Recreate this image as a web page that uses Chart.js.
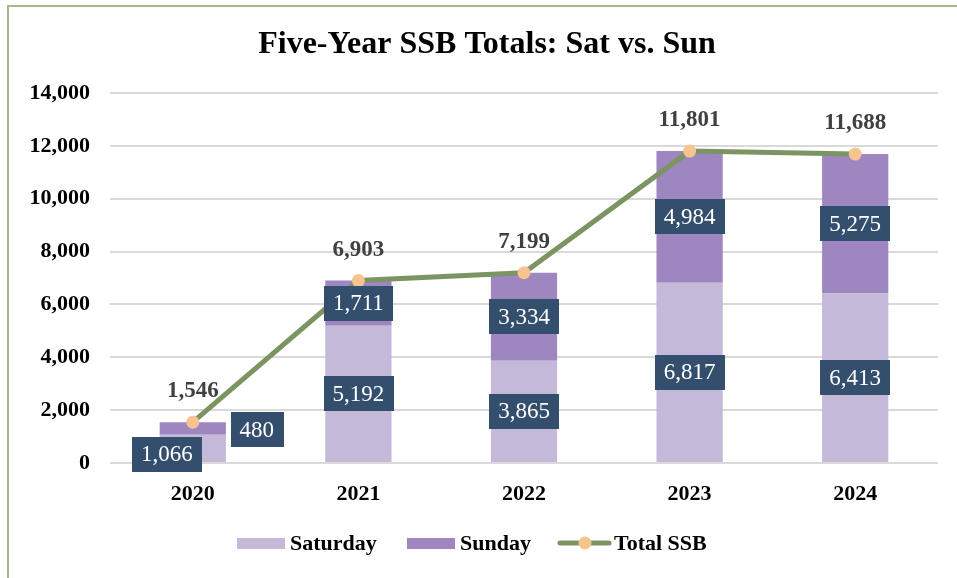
<!DOCTYPE html>
<html>
<head>
<meta charset="utf-8">
<script src="https://cdn.jsdelivr.net/npm/chart.js@4/dist/chart.umd.min.js"></script>
<style>
html,body{margin:0;padding:0;background:#fff;}
#wrap{position:relative;width:957px;height:578px;}
</style>
</head>
<body>
<div id="wrap"><canvas id="c" width="957" height="578"></canvas></div>
<script>
const categories = ['2020', '2021', '2022', '2023', '2024'];
const saturday = [1066, 5192, 3865, 6817, 6413];
const sunday = [480, 1711, 3334, 4984, 5275];
const totalSSB = [1546, 6903, 7199, 11801, 11688];
const yTicks = [0, 2000, 4000, 6000, 8000, 10000, 12000, 14000];
const seriesNames = ['Saturday', 'Sunday', 'Total SSB'];
const titleText = 'Five-Year SSB Totals: Sat vs. Sun';

const SERIF = '"Liberation Serif", "Times New Roman", serif';
const COL_SAT = '#c5b9da';
const COL_SUN = '#9e86c0';
const COL_LINE = '#7b9462';
const COL_PT = '#f6c48e';
const COL_BOX = '#344e6d';

const fmt = v => v.toLocaleString('en-US');

// per-label pixel nudges (labels were moved by hand for the first category)
const labelNudge = {
  0: { 0: [-26, 6], 1: [64, 1] }
};

const customPlugin = {
  id: 'custom',
  beforeDraw(chart) {
    const ctx = chart.ctx;
    ctx.save();
    ctx.fillStyle = '#fff';
    ctx.fillRect(0, 0, chart.width, chart.height);
    ctx.strokeStyle = '#a3b88f';
    ctx.lineWidth = 2;
    ctx.beginPath();
    ctx.moveTo(8, 578);
    ctx.lineTo(8, 6);
    ctx.lineTo(957, 6);
    ctx.stroke();
    ctx.fillStyle = '#000';
    ctx.font = 'bold 32px ' + SERIF;
    ctx.textAlign = 'center';
    ctx.textBaseline = 'middle';
    ctx.fillText(titleText, 487, 45);
    ctx.restore();
  },
  afterDatasetsDraw(chart) {
    const ctx = chart.ctx;
    ctx.save();
    ctx.textAlign = 'center';
    ctx.textBaseline = 'middle';
    [0, 1].forEach(di => {
      const meta = chart.getDatasetMeta(di);
      const data = chart.data.datasets[di].data;
      meta.data.forEach((bar, i) => {
        const txt = fmt(data[i]);
        let cx = bar.x;
        let cy = (bar.y + bar.base) / 2;
        const n = labelNudge[i] && labelNudge[i][di];
        if (n) { cx += n[0]; cy += n[1]; }
        ctx.font = '23px ' + SERIF;
        const w = ctx.measureText(txt).width + 18;
        const h = 35;
        ctx.fillStyle = COL_BOX;
        ctx.fillRect(Math.round(cx - w / 2), Math.round(cy - h / 2), Math.round(w), h);
        ctx.fillStyle = '#fff';
        ctx.fillText(txt, cx, cy + 1);
      });
    });
    const lm = chart.getDatasetMeta(2);
    const ld = chart.data.datasets[2].data;
    ctx.font = 'bold 23px ' + SERIF;
    ctx.fillStyle = '#404040';
    lm.data.forEach((pt, i) => {
      ctx.fillText(fmt(ld[i]), pt.x, pt.y - 31);
    });
    ctx.restore();
  },
  afterDraw(chart) {
    const ctx = chart.ctx;
    ctx.save();
    ctx.font = 'bold 22px ' + SERIF;
    ctx.textBaseline = 'middle';
    ctx.textAlign = 'left';
    const y = 543;
    ctx.fillStyle = COL_SAT;
    ctx.fillRect(237, y - 5, 48, 11);
    ctx.fillStyle = '#000';
    ctx.fillText(seriesNames[0], 290, y + 1);
    ctx.fillStyle = COL_SUN;
    ctx.fillRect(407, y - 5, 48, 11);
    ctx.fillStyle = '#000';
    ctx.fillText(seriesNames[1], 460, y + 1);
    ctx.strokeStyle = COL_LINE;
    ctx.lineWidth = 5;
    ctx.lineCap = 'round';
    ctx.beginPath();
    ctx.moveTo(560, y);
    ctx.lineTo(609, y);
    ctx.stroke();
    ctx.fillStyle = COL_PT;
    ctx.beginPath();
    ctx.arc(585, y, 6.5, 0, Math.PI * 2);
    ctx.fill();
    ctx.fillStyle = '#000';
    ctx.fillText(seriesNames[2], 614, y + 1);
    ctx.restore();
  }
};

new Chart(document.getElementById('c'), {
  data: {
    labels: categories,
    datasets: [
      {
        type: 'bar',
        label: seriesNames[0],
        data: saturday,
        backgroundColor: COL_SAT,
        stack: 's',
        order: 1,
        barPercentage: 0.8,
        categoryPercentage: 0.5
      },
      {
        type: 'bar',
        label: seriesNames[1],
        data: sunday,
        backgroundColor: COL_SUN,
        stack: 's',
        order: 2,
        barPercentage: 0.8,
        categoryPercentage: 0.5
      },
      {
        type: 'line',
        label: seriesNames[2],
        data: totalSSB,
        borderColor: COL_LINE,
        borderWidth: 5,
        pointBackgroundColor: COL_PT,
        pointBorderColor: COL_PT,
        pointRadius: 6.5,
        pointBorderWidth: 0,
        tension: 0,
        order: 0,
        stack: 'line'
      }
    ]
  },
  options: {
    responsive: false,
    animation: false,
    devicePixelRatio: 1,
    layout: { padding: { top: 93, right: 19, left: 0, bottom: 0 } },
    plugins: {
      legend: { display: false },
      title: { display: false },
      tooltip: { enabled: false }
    },
    scales: {
      x: {
        stacked: true,
        grid: { display: false, drawTicks: false },
        border: { display: false },
        ticks: {
          color: '#000',
          font: { family: SERIF, size: 22, weight: 'bold' },
          padding: 18
        },
        afterFit(s) { s.height = 115; }
      },
      y: {
        stacked: true,
        min: 0,
        max: 14000,
        afterBuildTicks(s) { s.ticks = yTicks.map(v => ({ value: v })); },
        grid: { color: '#d9d9d9', lineWidth: 2, drawTicks: false },
        border: { display: false },
        ticks: {
          color: '#000',
          font: { family: SERIF, size: 22, weight: 'bold' },
          padding: 20,
          callback: v => fmt(v)
        },
        afterFit(s) { s.width = 110; }
      }
    }
  },
  plugins: [customPlugin]
});
</script>
</body>
</html>
